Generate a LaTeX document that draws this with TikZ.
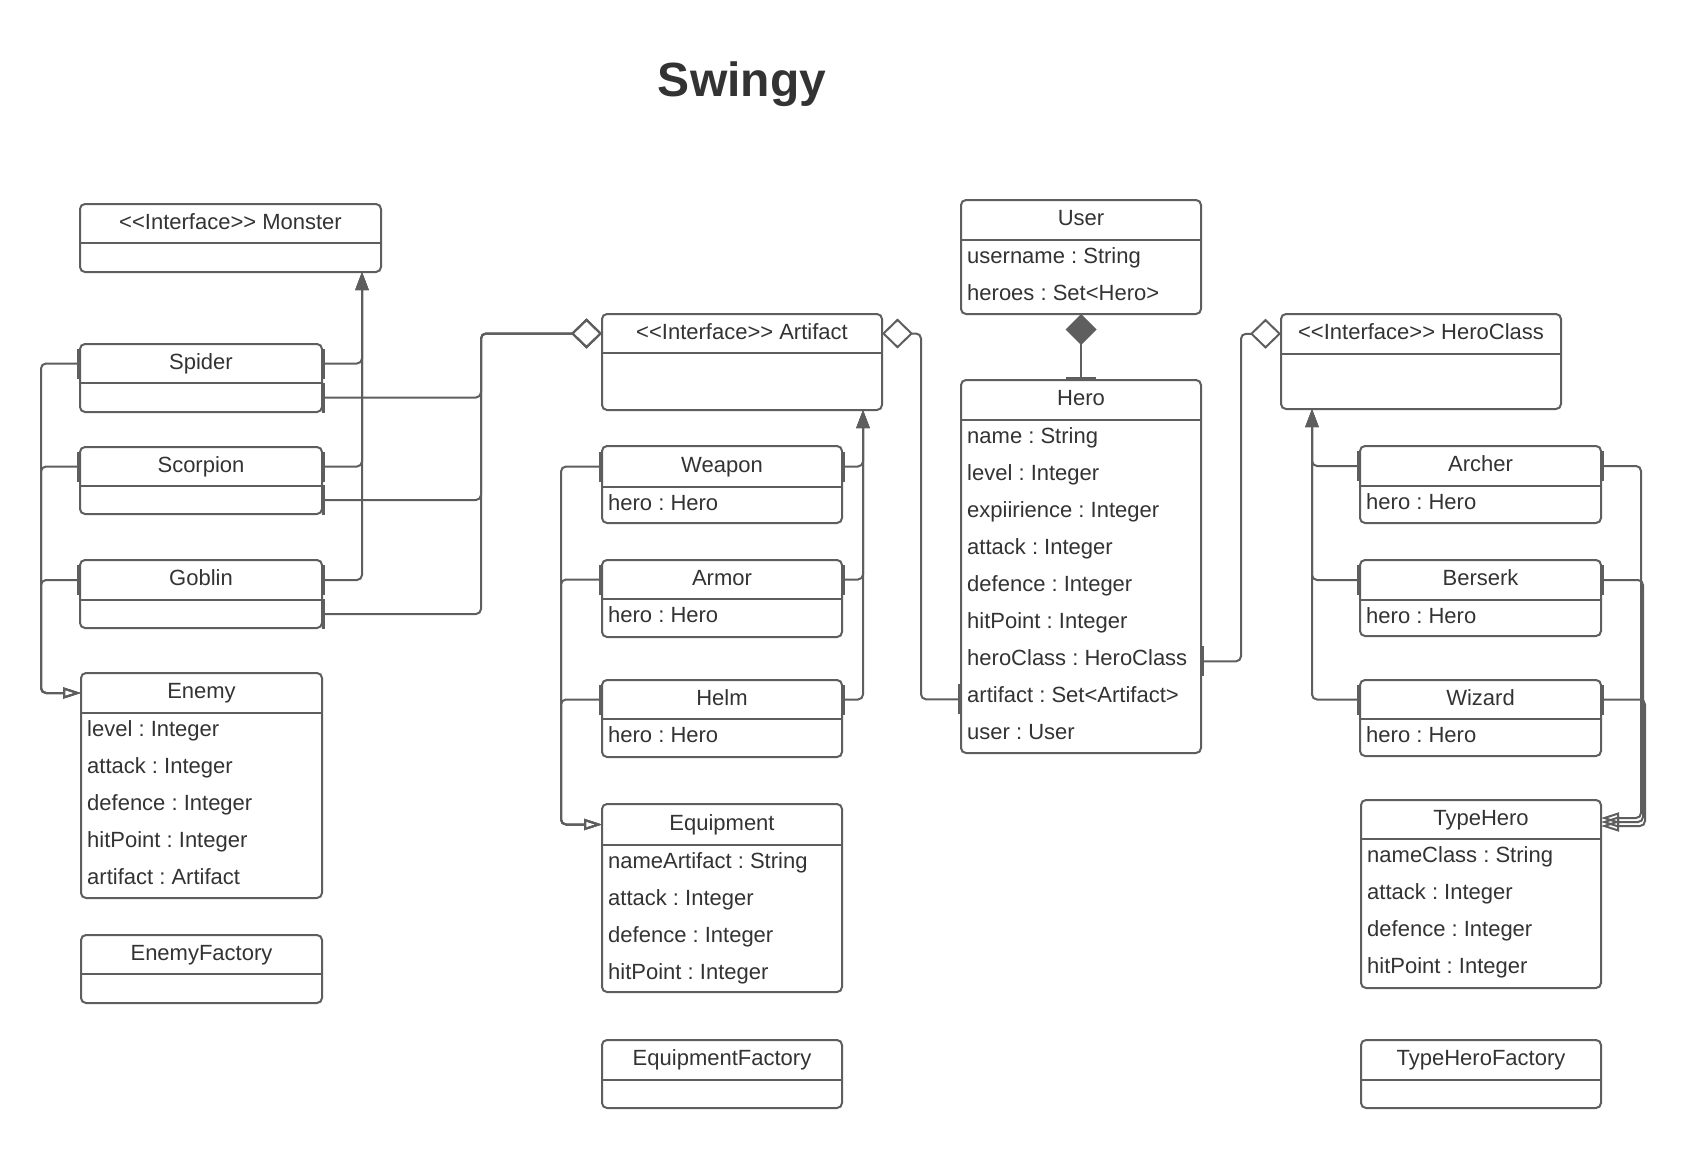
\documentclass[tikz,border=0pt]{standalone}
\usepackage{fontspec}
\setmainfont{Liberation Sans}[Ligatures=TeXOff]
\usetikzlibrary{arrows.meta,calc}
\definecolor{linegray}{HTML}{5E5E5E}
\definecolor{textgray}{HTML}{333333}
\tikzset{
  classbox/.style={draw=linegray, line width=2pt, rounded corners=5pt, fill=white, inner sep=0pt, outer sep=0pt},
  divline/.style={draw=linegray, line width=2pt},
  classtitle/.style={font=\fontsize{22}{26}\selectfont\frenchspacing, text=textgray, inner sep=0pt, text height=16pt, text depth=4.5pt},
  attrtext/.style={font=\fontsize{22}{26}\selectfont\frenchspacing, text=textgray, inner sep=0pt, anchor=base west},
  conn/.style={draw=linegray, line width=2pt, rounded corners=5pt},
  ubar/.tip={Bar[width=30pt,line width=3pt]},
  uinh/.tip={Triangle[length=18pt,width=13pt]},
  ugen/.tip={Triangle[open,length=18pt,width=11pt]},
  uagg/.tip={Diamond[open,length=31pt,width=30pt]},
  ucomp/.tip={Diamond[length=31pt,width=31pt]},
}
% #1 name, #2 x, #3 y (top), #4 width, #5 header height, #6 total height, #7 title
\newcommand{\umlclass}[7]{%
  \node[classbox, minimum width=#4pt, minimum height=#6pt, anchor=north west] (#1) at (#2,#3) {};
  \node[classtitle] (#1-t) at ($(#1.north)+(0,#5/2)$) {#7};
  \draw[divline] ($(#1.north west)+(0,#5)$) -- ($(#1.north east)+(0,#5)$);
  \coordinate (#1-b) at ($(#1.north)+(0,{(#5+#6)/2})$);
}
% #1 name, #2 header height, #3 list of rows
\newcommand{\umlattrs}[3]{%
  \foreach \attrline [count=\ki from 0] in {#3} {
    \node[attrtext] (#1-a\ki) at ($(#1.north west)+(6,{#2+23.3+37*\ki})$) {\attrline};
  }
}
\begin{document}
\frenchspacing
\begin{tikzpicture}[x=1pt,y=-1pt]
\fill[white] (0,0) rectangle (1683,1148);
\useasboundingbox (0,0) rectangle (1683,1148);

\node[font=\fontsize{48}{57}\selectfont\bfseries, text=textgray, inner sep=0pt, anchor=base] (title) at (742,96.5) {Swingy};

% left column
\umlclass{monster}{80}{204}{301}{39}{68}{<<Interface>> Monster}
\umlclass{spider}{80}{344}{242}{39}{68}{Spider}
\umlclass{scorpion}{80}{447}{242}{39}{67}{Scorpion}
\umlclass{goblin}{80}{560}{242}{40}{68}{Goblin}
\umlclass{enemy}{81}{673}{241}{40}{225}{Enemy}
\umlattrs{enemy}{40}{level : Integer, attack : Integer, defence : Integer, hitPoint : Integer, artifact : Artifact}
\umlclass{enemyfactory}{81}{935}{241}{39}{68}{EnemyFactory}

% artifact column
\umlclass{artifact}{602}{314}{280}{39}{96}{<<Interface>> Artifact}
\umlclass{weapon}{602}{446}{240}{41}{77}{Weapon}
\umlattrs{weapon}{41}{hero : Hero}
\umlclass{armor}{602}{560}{240}{39}{77}{Armor}
\umlattrs{armor}{39}{hero : Hero}
\umlclass{helm}{602}{680}{240}{39}{77}{Helm}
\umlattrs{helm}{39}{hero : Hero}
\umlclass{equipment}{602}{804}{240}{41}{188}{Equipment}
\umlattrs{equipment}{41}{nameArtifact : String, attack : Integer, defence : Integer, hitPoint : Integer}
\umlclass{equipfactory}{602}{1040}{240}{40}{68}{EquipmentFactory}

% user / hero column
\umlclass{user}{961}{200}{240}{40}{114}{User}
\umlattrs{user}{40}{username : String, heroes : Set<Hero>}
\umlclass{hero}{961}{380}{240}{40}{373}{Hero}
\umlattrs{hero}{40}{name : String, level : Integer, expiirience : Integer, attack : Integer, defence : Integer, hitPoint : Integer, heroClass : HeroClass, artifact : Set<Artifact>, user : User}

% hero class column
\umlclass{heroclass}{1281}{314}{280}{39.5}{95}{<<Interface>> HeroClass}
\umlclass{archer}{1360}{446}{241}{40}{77}{Archer}
\umlattrs{archer}{40}{hero : Hero}
\umlclass{berserk}{1360}{560}{241}{40}{76}{Berserk}
\umlattrs{berserk}{40}{hero : Hero}
\umlclass{wizard}{1360}{680}{241}{39}{76}{Wizard}
\umlattrs{wizard}{39}{hero : Hero}
\umlclass{typehero}{1361}{800}{240}{39}{188}{TypeHero}
\umlattrs{typehero}{39}{nameClass : String, attack : Integer, defence : Integer, hitPoint : Integer}
\umlclass{typeherofactory}{1361}{1040}{240}{40}{68}{TypeHeroFactory}

% routing guide coordinates
\coordinate (mx) at (362,0);
\coordinate (ex) at (41,0);
\coordinate (sax) at (481,0);
\coordinate (ax) at (863,0);
\coordinate (qx) at (561,0);
\coordinate (ahx) at (921,0);
\coordinate (hcx) at (1241,0);
\coordinate (hx) at (1312,0);
\coordinate (t1) at (1641,818);
\coordinate (t2) at (1643,822);
\coordinate (t3) at (1645,826);

% monsters -> Monster
\foreach \c in {spider,scorpion,goblin}
  \draw[conn, ubar-uinh] (\c.east |- \c-t) -| (monster.south -| mx);
% monsters -> Enemy
\foreach \c in {spider,scorpion,goblin}
  \draw[conn, ubar-ugen] (\c.west |- \c-t) -| (enemy-t -| ex) -- (enemy.west |- enemy-t);
% monsters -> Artifact (aggregation)
\foreach \c in {spider,scorpion,goblin}
  \draw[conn, ubar-uagg] (\c.east |- \c-b) -| (artifact-t -| sax) -- (artifact.west |- artifact-t);
% items -> Artifact
\foreach \c in {weapon,armor,helm}
  \draw[conn, ubar-uinh] (\c.east |- \c-t) -| (artifact.south -| ax);
% items -> Equipment
\foreach \c in {weapon,armor,helm}
  \draw[conn, ubar-ugen] (\c.west |- \c-t) -| (equipment-t -| qx) -- (equipment.west |- equipment-t);
% Artifact <>- Hero
\draw[conn, uagg-ubar] (artifact.east |- artifact-t) -- (artifact-t -| ahx) |- ($(hero.west |- hero-a7.base)+(0,-3)$);
% Hero -<> HeroClass
\draw[conn, ubar-uagg] ($(hero.east |- hero-a6.base)+(0,-4)$) -| (heroclass-t -| hcx) -- (heroclass.west |- heroclass-t);
% User <#>- Hero
\draw[conn, ucomp-ubar] (user.south) -- (hero.north);
% classes -> HeroClass
\foreach \c in {archer,berserk,wizard}
  \draw[conn, ubar-uinh] (\c.west |- \c-t) -| (heroclass.south -| hx);
% classes -> TypeHero
\draw[conn, ubar-ugen] (archer.east |- archer-t) -| (t1) -- (typehero.east |- t1);
\draw[conn, ubar-ugen] (berserk.east |- berserk-t) -| (t2) -- (typehero.east |- t2);
\draw[conn, ubar-ugen] (wizard.east |- wizard-t) -| (t3) -- (typehero.east |- t3);
\end{tikzpicture}
\end{document}
